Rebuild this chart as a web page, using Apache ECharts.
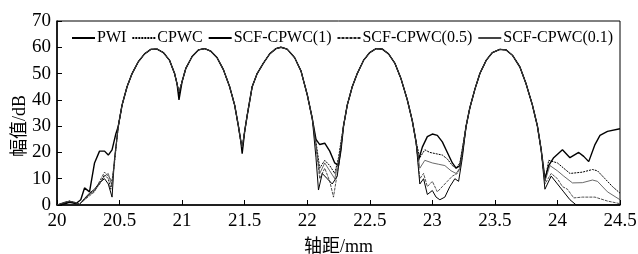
<!DOCTYPE html>
<html>
<head>
<meta charset="utf-8">
<script src="https://cdn.jsdelivr.net/npm/echarts@6/dist/echarts.min.js"></script>
<style>
  html, body { margin: 0; padding: 0; background: #fff; }
  #chart { width: 638px; height: 254px; }
</style>
</head>
<body>
<div id="chart"></div>
<script>
// 图例名称
var names = ['PWI', 'CPWC', 'SCF-CPWC(1)', 'SCF-CPWC(0.5)', 'SCF-CPWC(0.1)'];

// 主瓣（各曲线基本重合）
var lobe1 = [[20.49,30],[20.52,38],[20.56,45],[20.60,50],[20.65,54.5],[20.70,57.5],[20.75,59.2],[20.80,59.3],[20.85,58],[20.90,55],[20.94,50],[20.96,46]];
var lobe2 = [[21.00,47],[21.03,52],[21.08,56.5],[21.13,59],[21.18,59.5],[21.23,58.5],[21.28,56],[21.33,51.5],[21.38,45],[21.42,38],[21.45,30],[21.47,24]];
var lobe3 = [[21.50,28],[21.52,34],[21.56,45],[21.60,50],[21.65,54],[21.70,57.5],[21.75,59.5],[21.79,60],[21.84,59.3],[21.90,56],[21.95,51],[22.00,42],[22.04,33]];
var lobe4 = [[22.29,30],[22.32,38],[22.36,45],[22.40,50],[22.45,55],[22.50,58],[22.55,59.5],[22.60,59.3],[22.65,57.5],[22.70,54],[22.75,48],[22.80,40],[22.84,32],[22.87,24]];
var lobe5 = [[23.27,30],[23.30,37],[23.34,44],[23.38,50],[23.43,55],[23.48,58],[23.54,59.2],[23.59,59],[23.64,57],[23.70,52.5],[23.75,46],[23.80,38],[23.84,30],[23.87,21]];

// 旁瓣及零点（各曲线不同）
var pwiSide = [
    [20.0,0],[20.05,0.3],[20.1,1],[20.15,0.5],[20.19,2],[20.22,6.5],[20.26,5],[20.3,16],[20.34,20.5],[20.38,20.5],[20.41,19],[20.44,21],[20.47,27],
    [20.975,40],[21.48,19.5],
    [22.07,25],[22.1,23],[22.14,23.5],[22.18,20.5],[22.22,16],[22.25,15],[22.27,21],
    [22.89,17],[22.92,22],[22.96,26],[23.0,27],[23.04,26.5],[23.08,24],[23.12,20],[23.16,16],[23.19,14],[23.22,15],[23.24,20],
    [23.9,10],[23.93,15],[23.97,18],[24.04,21],[24.1,18],[24.17,20],[24.21,18.5],[24.25,16.5],[24.3,23],[24.34,26.5],[24.4,28],[24.5,29]
];
var cpwcSide = [
    [20.0,0],[20.06,1],[20.1,1.5],[20.14,1],[20.18,0.3],[20.22,2],[20.26,4],[20.3,5.5],[20.34,8],[20.38,11.5],[20.41,10],[20.43,6],[20.46,16],
    [20.975,43],[21.48,22],
    [22.07,24],[22.1,14],[22.14,17],[22.18,15],[22.22,12],[22.25,18],
    [22.9,18],[22.94,21],[22.98,20],[23.03,19.5],[23.08,19],[23.12,17.5],[23.16,15],[23.19,14],[23.22,16],
    [23.9,9],[23.93,17],[24.0,16],[24.05,14],[24.1,12],[24.2,12.5],[24.28,13.5],[24.32,13],[24.38,10],[24.44,7],[24.5,4.5]
];
var scf1Side = [
    [20.0,0],[20.06,0.8],[20.1,1.2],[20.14,0.8],[20.18,0.2],[20.22,2.5],[20.26,4.5],[20.3,6],[20.34,8.5],[20.38,10],[20.41,8],[20.44,3],[20.46,18],
    [20.975,42],[21.48,21],
    [22.07,18],[22.09,5.7],[22.12,12],[22.16,10],[22.2,8],[22.24,11],[22.27,22],
    [22.9,8],[22.93,10],[22.96,4],[23.0,5.5],[23.03,3],[23.06,2],[23.1,3],[23.14,7],[23.18,10],[23.21,9],[23.24,18],
    [23.9,6],[23.95,11],[24.0,8],[24.05,5],[24.1,2],[24.15,0],[24.3,0],[24.5,0]
];
var scf05Side = [
    [20.0,0],[20.06,1],[20.1,1.4],[20.14,1],[20.18,0.3],[20.22,2],[20.26,3.5],[20.3,5],[20.34,9],[20.38,12.5],[20.41,11],[20.44,9],[20.46,17],
    [20.975,43],[21.48,22],
    [22.07,22],[22.1,10],[22.14,14],[22.18,9],[22.21,3],[22.24,12],[22.27,22],
    [22.9,10],[22.93,12],[22.96,7],[23.0,9],[23.04,5],[23.08,7],[23.12,9],[23.16,11],[23.2,12],[23.22,14],
    [23.9,8],[23.95,12],[24.0,10],[24.04,7],[24.08,6],[24.13,2.7],[24.2,3],[24.3,3],[24.4,1.5],[24.5,0.5]
];
var scf01Side = [
    [20.0,0],[20.06,1],[20.1,1.5],[20.14,1],[20.18,0.3],[20.22,2.2],[20.26,4],[20.3,5.5],[20.34,8],[20.38,11],[20.41,12],[20.44,7],[20.46,17],
    [20.975,43],[21.48,22],
    [22.07,23],[22.1,12],[22.14,16],[22.18,13],[22.22,10],[22.25,17],
    [22.9,14],[22.94,17],[23.0,16],[23.05,15.5],[23.1,15],[23.15,13],[23.19,12],[23.22,14],
    [23.9,9],[23.94,15],[24.0,13],[24.05,11],[24.12,8.4],[24.2,8.5],[24.28,9.5],[24.32,9],[24.4,5],[24.5,2]
];

var sides = [pwiSide, cpwcSide, scf1Side, scf05Side, scf01Side];
var lineStyles = [
    { color: '#000', width: 1.4, type: 'solid' },
    { color: '#000', width: 1, type: [2, 1] },
    { color: '#000', width: 1, type: 'solid' },
    { color: '#222', width: 0.8, type: [3, 1] },
    { color: '#444', width: 0.8, type: 'solid' }
];

function buildData(side) {
    var all = side.concat(lobe1, lobe2, lobe3, lobe4, lobe5);
    all.sort(function(a, b) { return a[0] - b[0]; });
    return all;
}

var series = names.map(function(n, i) {
    return {
        name: n,
        type: 'line',
        symbol: 'none',
        smooth: false,
        color: lineStyles[i].color,
        itemStyle: { color: lineStyles[i].color },
        lineStyle: lineStyles[i],
        data: buildData(sides[i])
    };
});

var serif = '"Liberation Serif", "Times New Roman", "Noto Sans CJK SC", serif';
var myChart = echarts.init(document.getElementById('chart'));
var option = {
    backgroundColor: '#fff',
    animation: false,
    textStyle: { fontFamily: serif, color: '#000' },
    grid: {
        left: 57, right: 18, top: 21, bottom: 49,
        outerBoundsMode: 'none', containLabel: false,
        show: true, borderColor: '#000', borderWidth: 1
    },
    legend: {
        left: 66, top: 25,
        itemWidth: 23, itemHeight: 14, itemGap: 5,
        itemStyle: { opacity: 0 },
        textStyle: { fontFamily: serif, fontSize: 16, color: '#000', padding: [0, 0, 0, -3] },
        data: names
    },
    xAxis: {
        type: 'value', min: 20, max: 24.5, interval: 0.5,
        name: '轴距/mm', nameLocation: 'middle', nameGap: 33,
        nameMoveOverlap: false,
        nameTextStyle: { fontFamily: serif, fontSize: 18, color: '#000' },
        axisLine: { lineStyle: { color: '#000', width: 1.5 } },
        axisTick: { inside: true, length: 5, lineStyle: { color: '#000' } },
        axisLabel: { fontFamily: serif, fontSize: 19, color: '#000', margin: 7 },
        splitLine: { show: false }
    },
    yAxis: {
        type: 'value', min: 0, max: 70, interval: 10,
        name: '幅值/dB', nameLocation: 'middle', nameGap: 28,
        nameMoveOverlap: false,
        nameTextStyle: { fontFamily: serif, fontSize: 18, color: '#000', padding: [0, 26, 0, 0] },
        axisLine: { show: true, lineStyle: { color: '#000', width: 1.5 } },
        axisTick: { inside: true, length: 5, lineStyle: { color: '#000' } },
        axisLabel: { fontFamily: serif, fontSize: 19, color: '#000', margin: 6 },
        splitLine: { show: false }
    },
    series: series
};
myChart.setOption(option);
</script>
</body>
</html>
